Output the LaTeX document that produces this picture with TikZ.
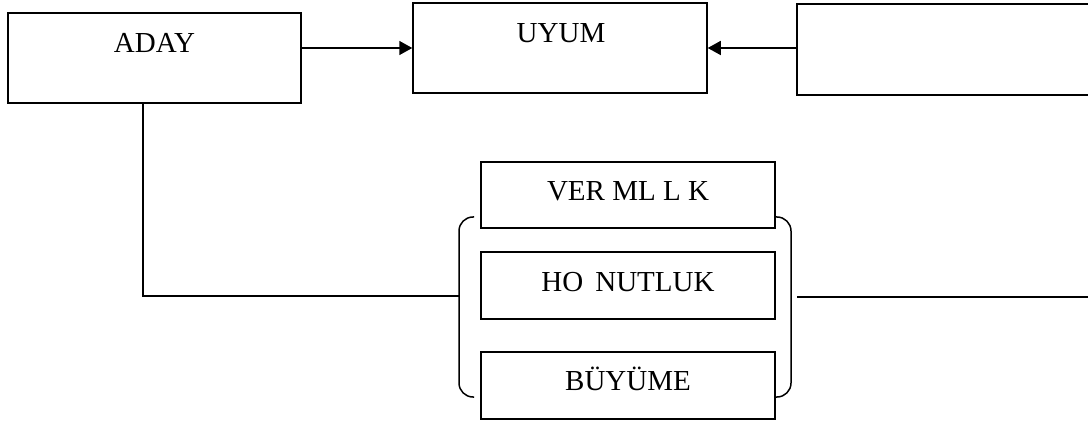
\documentclass[tikz,border=0pt]{standalone}
\usepackage{fontspec}
\setmainfont{Liberation Serif}
\usetikzlibrary{arrows.meta}
\begin{document}
\begin{tikzpicture}[x=1pt,y=-1pt,
  box/.style={draw,line width=1.5pt,inner sep=0pt},
  txt/.style={inner sep=0pt,anchor=base,font=\fontsize{29}{34}\selectfont},
  conn/.style={line width=1.5pt},
  arr/.style={conn,-{Triangle[length=13pt,width=14pt]}},
  brace/.style={line width=1.5pt,rounded corners=14pt}]
\useasboundingbox (0,0) rectangle (1088,422);
\clip (0,0) rectangle (1088,422);
% top row
\node[box,minimum width=293pt,minimum height=90pt] (aday) at (154.5,58) {};
\node[txt] (adayt) at (154.5,53) {ADAY};
\node[box,minimum width=294pt,minimum height=90pt] (uyum) at (560,48) {};
\node[txt] (uyumt) at (561,43) {UYUM};
\node[box,minimum width=306pt,minimum height=91pt] (empty) at (950,49.5) {};
% bottom group
\node[box,minimum width=294pt,minimum height=66pt] (ver) at (628,195) {};
\node[txt] (vert) at (628,201) {VER ML L K};
\node[box,minimum width=294pt,minimum height=67pt] (hos) at (628,285.5) {};
\node[txt] (host) at (628,291.5) {HO\hspace{12pt}NUTLUK};
\node[box,minimum width=294pt,minimum height=67pt] (buy) at (628,385.5) {};
\node[txt] (buyt) at (628,390.5) {BÜYÜME};
% braces
\coordinate (lbt) at (474,217);
\coordinate (lbb) at (474,397);
\coordinate (lbrace) at (459,296);
\coordinate (rbt) at (775,217);
\coordinate (rbb) at (775,397);
\coordinate (rline) at (797,297);
\coordinate (rend) at (1090,297);
\draw[brace] (lbt) -- (lbrace |- lbt) -- (lbrace |- lbb) -- (lbb);
\draw[brace] (rbt) -- (791,217) -- (791,397) -- (rbb);
% connectors
\draw[arr] (aday.east |- uyum.west) -- (uyum.west);
\draw[arr] (empty.west |- uyum.east) -- (uyum.east);
\draw[conn] ([xshift=-11.5pt]aday.south) |- (lbrace);
\draw[conn] (rline) -- (rend);
\end{tikzpicture}
\end{document}
